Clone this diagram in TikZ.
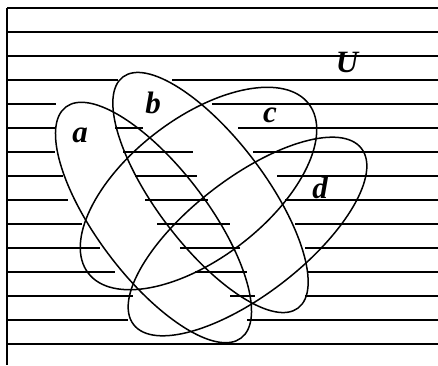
\documentclass[tikz,border=0pt]{standalone}
\usepackage{fontspec}
\usepackage{tikz}
\newfontfamily\setlabelfont{Liberation Serif}

\begin{document}
\begin{tikzpicture}[x=1pt, y=1pt,
    setline/.style={line width=1.5pt},
    hatch/.style={line width=1.4pt},
    border/.style={line width=2.2pt},
    setlabel/.style={font=\setlabelfont\bfseries\itshape\fontsize{31}{31}\selectfont, inner sep=0pt}
  ]
    \useasboundingbox (0,0) rectangle (438,365);
    % hatching, one row per line: y / from / to
    \foreach \y/\xa/\xb in {357/7/438, 333/7/438, 309/7/438,
        285/7/118, 285/172/438,
        261/7/56, 261/212/438,
        237/7/55, 237/115/143, 237/238/438,
        213/7/55, 213/123/193, 213/253/438,
        189/7/63, 189/135/197, 189/277/438,
        165/7/68, 165/145/208, 165/285/438,
        141/7/82, 141/157/230, 141/295/438,
        117/7/100, 117/180/240, 117/305/438,
        93/7/115, 93/195/247, 93/307/438,
        69/7/133, 69/230/255, 69/305/438,
        45/7/128, 45/247/438,
        21/7/438}
      \draw[hatch] (\xa,\y) -- (\xb,\y);
    \draw[border] (7,357) -- (7,0);
    % the four sets
    \draw[setline, rotate around={-52.8:(153.5,142.5)}] (153.5,142.5) ellipse [x radius=145, y radius=55];
    \draw[setline, rotate around={-52.8:(210.5,172.5)}] (210.5,172.5) ellipse [x radius=145, y radius=54];
    \draw[setline, rotate around={37.5:(198.5,176.5)}] (198.5,176.5) ellipse [x radius=139, y radius=70];
    \draw[setline, rotate around={37.7:(247.5,128.5)}] (247.5,128.5) ellipse [x radius=144, y radius=58];
    \node[setlabel] (la) at (80,230) {a};
    \node[setlabel] (lb) at (153,262) {b};
    \node[setlabel] (lc) at (270,250) {c};
    \node[setlabel] (ld) at (320,177) {d};
    \node[setlabel] (lu) at (347,303) {U};
  \end{tikzpicture}
\end{document}
